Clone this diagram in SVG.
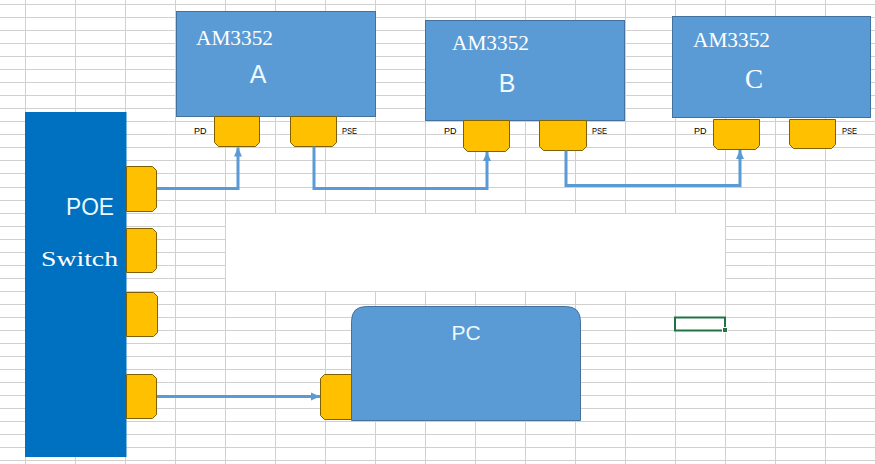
<svg xmlns="http://www.w3.org/2000/svg" width="876" height="464" viewBox="0 0 876 464">
<style>
.grid{stroke:#d0d0d0;stroke-width:1;fill:none}
.box{fill:#5b9bd5;stroke:#41719c;stroke-width:1}
.port{fill:#ffc000;stroke:#7f6000;stroke-width:1}
.conn{fill:none;stroke:#5b9bd5;stroke-width:3}
.serif{font-family:"Liberation Serif","DejaVu Serif",serif;fill:#ffffff}
.sans{font-family:"Liberation Sans",Arial,sans-serif;fill:#eef8ff}
.lbl{font-family:"Liberation Sans",Arial,sans-serif;font-size:9px;fill:#000000}
</style>
<defs>
<marker id="arr" markerUnits="userSpaceOnUse" markerWidth="10" markerHeight="10" viewBox="0 0 10 10" refX="9" refY="5" orient="auto">
<path d="M0,1 L9,5 L0,9 Z" fill="#5b9bd5"/>
</marker>
</defs>
<rect x="0" y="0" width="876" height="464" fill="#ffffff"/>
<g id="grid" class="grid">
<path d="M0,4.5H876M0,17.5H876M0,30.5H876M0,43.5H876M0,56.5H876M0,69.5H876M0,82.5H876M0,95.5H876M0,108.5H876M0,121.5H876M0,134.5H876M0,147.5H876M0,160.5H876M0,173.5H876M0,187.5H876M0,200.5H876M0,213.5H876M0,226.5H876M0,239.5H876M0,252.5H876M0,265.5H876M0,278.5H876M0,291.5H876M0,304.5H876M0,317.5H876M0,330.5H876M0,343.5H876M0,356.5H876M0,369.5H876M0,382.5H876M0,395.5H876M0,408.5H876M0,421.5H876M0,434.5H876M0,447.5H876M0,460.5H876"/>
<path d="M25.5,0V464M75.5,0V464M125.5,0V464M175.5,0V464M225.5,0V464M275.5,0V464M325.5,0V464M375.5,0V464M425.5,0V464M475.5,0V464M525.5,0V464M575.5,0V464M625.5,0V464M675.5,0V464M725.5,0V464M775.5,0V464M825.5,0V464M875.5,0V464"/>
</g>
<rect x="226" y="214" width="499" height="77" fill="#ffffff"/>
<g id="selection">
<rect x="675" y="317.5" width="50" height="13" fill="none" stroke="#217346" stroke-width="2"/>
<rect x="722.5" y="327.5" width="5" height="5" fill="#217346" stroke="#ffffff" stroke-width="1"/>
</g>
<g id="node-A">
<rect class="box" x="176.5" y="11.5" width="199" height="105"/>
<text class="serif" x="196" y="45" font-size="20" textLength="77" lengthAdjust="spacingAndGlyphs">AM3352</text>
<text class="sans" x="258" y="82.5" font-size="25" text-anchor="middle">A</text>
<path class="port" d="M214.5,116.5H259.5V142.5L255.5,146.5H218.5L214.5,142.5Z"/>
<path class="port" d="M290.5,116.5H336.5V142.5L332.5,146.5H294.5L290.5,142.5Z"/>
<text class="lbl" x="194" y="133.5" textLength="12.5">PD</text>
<text class="lbl" x="342" y="133.5" textLength="15" lengthAdjust="spacingAndGlyphs">PSE</text>
</g>
<g id="node-B">
<rect class="box" x="425.5" y="20.5" width="199" height="100"/>
<text class="serif" x="452" y="50" font-size="20" textLength="77" lengthAdjust="spacingAndGlyphs">AM3352</text>
<text class="sans" x="507" y="92" font-size="25" text-anchor="middle">B</text>
<path class="port" d="M463.5,120.5H509.5V147.5L505.5,151.5H467.5L463.5,147.5Z"/>
<path class="port" d="M539.5,120.5H586.5V146.5L582.5,150.5H543.5L539.5,146.5Z"/>
<text class="lbl" x="444" y="133.5" textLength="12.5">PD</text>
<text class="lbl" x="592" y="133.5" textLength="15" lengthAdjust="spacingAndGlyphs">PSE</text>
</g>
<g id="node-C">
<rect class="box" x="672.5" y="16.5" width="198" height="101"/>
<text class="serif" x="693" y="46.5" font-size="20" textLength="77" lengthAdjust="spacingAndGlyphs">AM3352</text>
<text class="serif" x="754" y="88" font-size="27" text-anchor="middle" fill="#eef8ff">C</text>
<path class="port" d="M713.5,119.5H759.5V145.5L755.5,149.5H717.5L713.5,145.5Z"/>
<path class="port" d="M789.5,119.5H835.5V144.5L831.5,148.5H793.5L789.5,144.5Z"/>
<text class="lbl" x="694" y="133.5" textLength="12.5">PD</text>
<text class="lbl" x="842" y="133.5" textLength="15" lengthAdjust="spacingAndGlyphs">PSE</text>
</g>
<g id="node-POE">
<rect x="25" y="112" width="101.5" height="345" fill="#0070c0"/>
<text class="sans" x="66" y="215" font-size="24" textLength="48" lengthAdjust="spacingAndGlyphs">POE</text>
<text class="serif" x="41" y="266" font-size="20" textLength="77" lengthAdjust="spacingAndGlyphs">Switch</text>
<path class="port" d="M126.5,166.5H152.5L156.5,170.5V207.5L152.5,211.5H126.5Z"/>
<path class="port" d="M126.5,228.5H152.5L156.5,232.5V268.5L152.5,272.5H126.5Z"/>
<path class="port" d="M126.5,292.5H153.5L157.5,296.5V332.5L153.5,336.5H126.5Z"/>
<path class="port" d="M126.5,374.5H152.5L156.5,378.5V414.5L152.5,418.5H126.5Z"/>
</g>
<g id="node-PC">
<path class="box" d="M351.5,420.5V321.5Q351.5,306.5 366.5,306.5H565.5Q580.5,306.5 580.5,321.5V420.5Z"/>
<text class="sans" x="466" y="340" font-size="21" text-anchor="middle">PC</text>
<path class="port" d="M351.5,374.5H324.5L320.5,378.5V415.5L324.5,419.5H351.5Z"/>
</g>
<g id="connectors">
<path class="conn" d="M157,188.5H238V147.5" marker-end="url(#arr)"/>
<path class="conn" d="M314,146.5V188.5H487V152" marker-end="url(#arr)"/>
<path class="conn" d="M566,150.5V185.5H740V150" marker-end="url(#arr)"/>
<path class="conn" d="M157,396.5H320" marker-end="url(#arr)"/>
</g>
</svg>
